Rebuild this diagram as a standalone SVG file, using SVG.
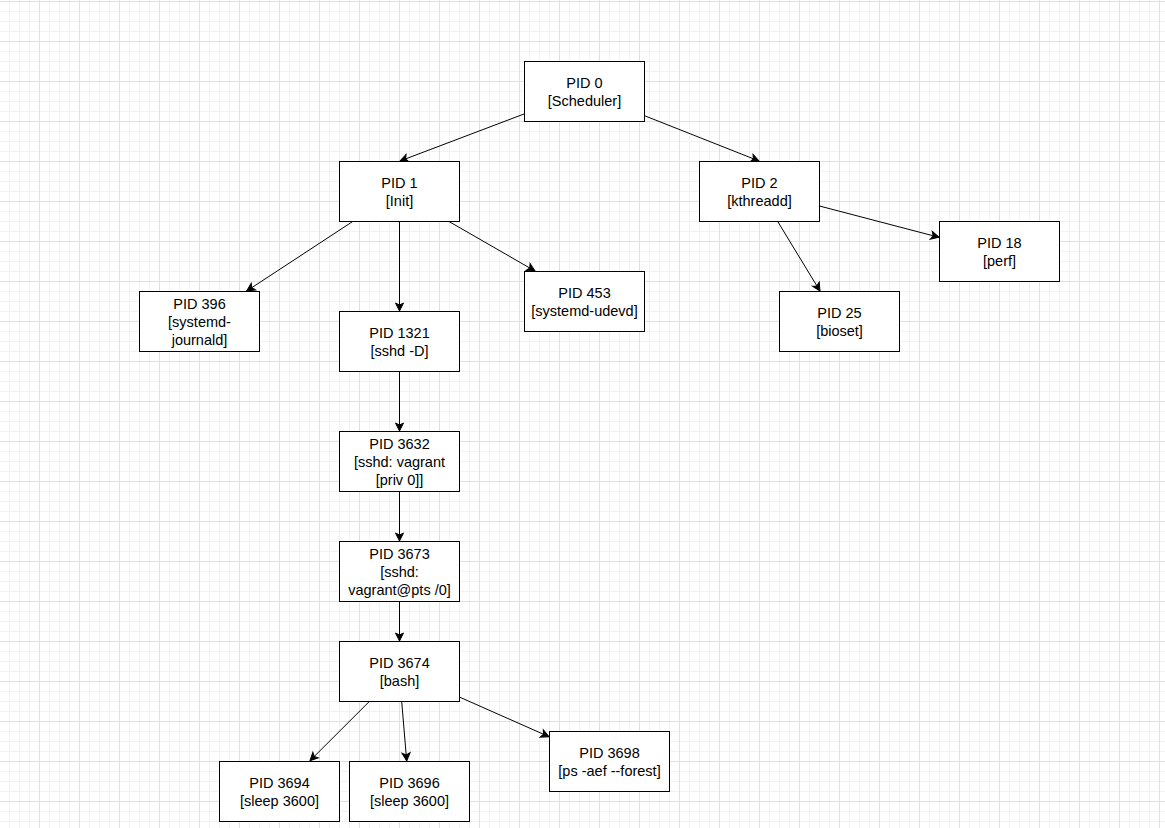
<svg xmlns="http://www.w3.org/2000/svg" width="1165" height="828" viewBox="0 0 1165 828">
<style>
.node rect{fill:#ffffff;stroke:#000000;stroke-width:1}
.node text{font-family:"Liberation Sans",Arial,Helvetica,sans-serif;font-size:14.5px;fill:#000000;text-anchor:middle}
.edge{stroke:#000000;stroke-width:1;fill:none;marker-end:url(#arrow)}
</style>
<defs>
<pattern id="grid" patternUnits="userSpaceOnUse" x="-1" y="1" width="40" height="40">
<path d="M10.5,0V40M20.5,0V40M30.5,0V40M0,10.5H40M0,20.5H40M0,30.5H40" stroke="#f2f2f2" stroke-width="1" fill="none"/>
<path d="M0.5,0V40M0,0.5H40" stroke="#e0e0e0" stroke-width="1" fill="none"/>
</pattern>
<marker id="arrow" markerUnits="userSpaceOnUse" markerWidth="10" markerHeight="9" refX="8" refY="4" orient="auto" overflow="visible">
<path d="M0,0 L8,4 L0,8 L2,4 z" fill="#000000" stroke="#000000" stroke-width="1"/>
</marker>
</defs>
<rect x="0" y="0" width="1165" height="828" fill="#ffffff"/>
<rect x="0" y="0" width="1165" height="828" fill="url(#grid)"/>
<g id="connectors">
<line class="edge" x1="524" y1="114" x2="400" y2="161"/>
<line class="edge" x1="644.5" y1="115.7" x2="759" y2="161"/>
<line class="edge" x1="352.7" y1="221.5" x2="246.7" y2="291"/>
<line class="edge" x1="399.5" y1="221.5" x2="399.5" y2="311"/>
<line class="edge" x1="449" y1="221.5" x2="535" y2="271"/>
<line class="edge" x1="819.5" y1="206" x2="939" y2="237.3"/>
<line class="edge" x1="777.7" y1="221.5" x2="820" y2="291"/>
<line class="edge" x1="399.5" y1="371.5" x2="399.5" y2="431"/>
<line class="edge" x1="399.5" y1="491.5" x2="399.5" y2="541"/>
<line class="edge" x1="399.5" y1="601.5" x2="399.5" y2="641"/>
<line class="edge" x1="369.3" y1="701.5" x2="310" y2="760.7"/>
<line class="edge" x1="401.7" y1="701.5" x2="406.7" y2="761"/>
<line class="edge" x1="460" y1="697.3" x2="549" y2="736.7"/>
</g>
<g id="pid0" class="node"><rect x="524.5" y="61.5" width="120" height="60"/><text x="584.5" y="87.6">PID 0</text><text x="584.5" y="105.9">[Scheduler]</text></g>
<g id="pid1" class="node"><rect x="339.5" y="161.5" width="120" height="60"/><text x="399.5" y="187.6">PID 1</text><text x="399.5" y="205.9">[Init]</text></g>
<g id="pid2" class="node"><rect x="699.5" y="161.5" width="120" height="60"/><text x="759.5" y="187.6">PID 2</text><text x="759.5" y="205.9">[kthreadd]</text></g>
<g id="pid18" class="node"><rect x="939.5" y="221.5" width="120" height="60"/><text x="999.5" y="247.6">PID 18</text><text x="999.5" y="265.9">[perf]</text></g>
<g id="pid25" class="node"><rect x="779.5" y="291.5" width="120" height="60"/><text x="839.5" y="317.6">PID 25</text><text x="839.5" y="335.9">[bioset]</text></g>
<g id="pid396" class="node"><rect x="139.5" y="291.5" width="120" height="60"/><text x="199.5" y="308.5">PID 396</text><text x="199.5" y="326.8">[systemd-</text><text x="199.5" y="345.1">journald]</text></g>
<g id="pid453" class="node"><rect x="524.5" y="271.5" width="120" height="60"/><text x="584.5" y="297.6">PID 453</text><text x="584.5" y="315.9">[systemd-udevd]</text></g>
<g id="pid1321" class="node"><rect x="339.5" y="311.5" width="120" height="60"/><text x="399.5" y="337.6">PID 1321</text><text x="399.5" y="355.9">[sshd -D]</text></g>
<g id="pid3632" class="node"><rect x="339.5" y="431.5" width="120" height="60"/><text x="399.5" y="448.5">PID 3632</text><text x="399.5" y="466.8">[sshd: vagrant</text><text x="399.5" y="485.1">[priv 0]]</text></g>
<g id="pid3673" class="node"><rect x="339.5" y="541.5" width="120" height="60"/><text x="399.5" y="558.5">PID 3673</text><text x="399.5" y="576.8">[sshd:</text><text x="399.5" y="595.1">vagrant@pts /0]</text></g>
<g id="pid3674" class="node"><rect x="339.5" y="641.5" width="120" height="60"/><text x="399.5" y="667.6">PID 3674</text><text x="399.5" y="685.9">[bash]</text></g>
<g id="pid3694" class="node"><rect x="219.5" y="761.5" width="120" height="60"/><text x="279.5" y="787.6">PID 3694</text><text x="279.5" y="805.9">[sleep 3600]</text></g>
<g id="pid3696" class="node"><rect x="349.5" y="761.5" width="120" height="60"/><text x="409.5" y="787.6">PID 3696</text><text x="409.5" y="805.9">[sleep 3600]</text></g>
<g id="pid3698" class="node"><rect x="549.5" y="731.5" width="120" height="60"/><text x="609.5" y="757.6">PID 3698</text><text x="609.5" y="775.9">[ps -aef --forest]</text></g>
</svg>
